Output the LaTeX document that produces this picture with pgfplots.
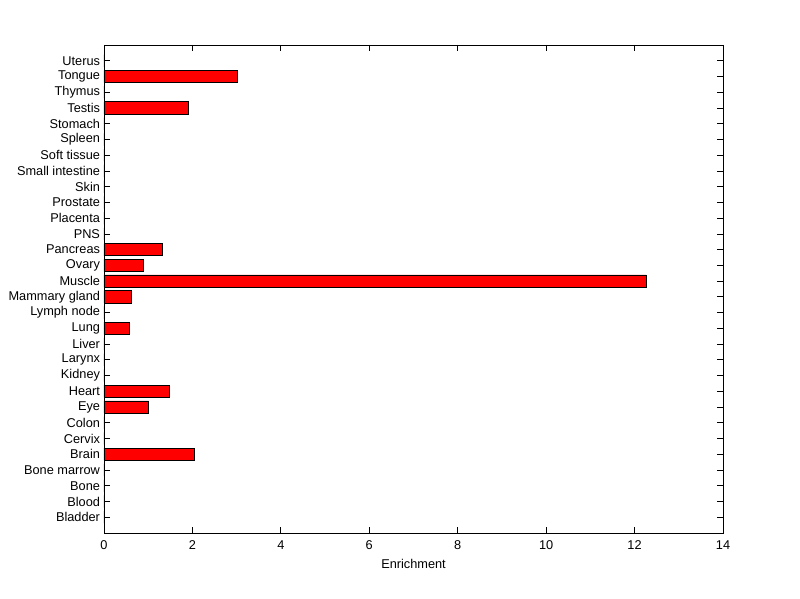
\documentclass[border=0pt]{standalone}
\usepackage{pgfplots}
\pgfplotsset{compat=1.18}
\usepackage{fontspec}
\setmainfont{Liberation Sans}
\begin{document}
\begin{tikzpicture}
\useasboundingbox (-104bp,-66bp) rectangle (696bp,533bp);
\fill[white] (-104bp,-66bp) rectangle (696bp,533bp);
\begin{axis}[
  at={(0,0)}, anchor=south west,
  scale only axis,
  width=619bp, height=488bp,
  xmin=0, xmax=14, ymin=0, ymax=31,
  xtick={0,2,...,14},
  ytick={1,...,30},
  yticklabels={Bladder,Blood,Bone,Bone marrow,Brain,Cervix,Colon,Eye,Heart,Kidney,Larynx,Liver,Lung,Lymph node,Mammary gland,Muscle,Ovary,Pancreas,PNS,Placenta,Prostate,Skin,Small intestine,Soft tissue,Spleen,Stomach,Testis,Thymus,Tongue,Uterus},
  tick align=inside,
  major tick length=6bp,
  tick style={black, line width=0.8pt},
  axis line style={black, line width=0.8pt},
  every tick label/.append style={font=\fontsize{12.8}{15}\selectfont},
  /pgf/number format/assume math mode=true,
  xlabel={Enrichment},
  xlabel style={font=\fontsize{12.8}{15}\selectfont, yshift=-3bp},
  yticklabel style={xshift=-0.5bp},
  xticklabel style={yshift=-4bp},
]
\addplot[xbar, bar width=0.78, fill=red, draw=black, line width=0.8pt] coordinates {
(0,1) (0,2) (0,3) (0,4) (2.04,5) (0,6) (0,7) (1.01,8) (1.47,9) (0,10)
(0,11) (0,12) (0.58,13) (0,14) (0.61,15) (12.26,16) (0.90,17) (1.32,18) (0,19) (0,20)
(0,21) (0,22) (0,23) (0,24) (0,25) (0,26) (1.92,27) (0,28) (3.01,29) (0,30)
};
\end{axis}
\end{tikzpicture}
\end{document}
